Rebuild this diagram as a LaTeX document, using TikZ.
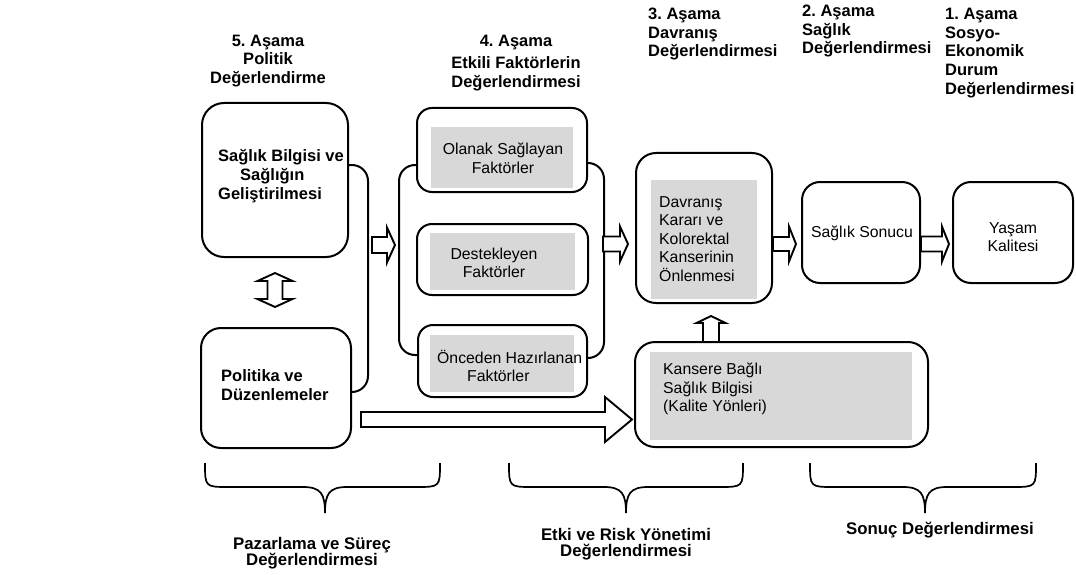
\documentclass[tikz,border=0pt]{standalone}
\usepackage{fontspec}
\setmainfont{Liberation Sans}
\usetikzlibrary{calc}
\frenchspacing
\definecolor{boxgray}{RGB}{216,216,216}
\newcommand\blkright[5]{\draw[blk] (#1) ++(0,-#4) -- ++(#2,0) -- ++(0,{#4-#5}) -- ++(#3,#5) -- ++(-#3,#5) -- ++(0,{#4-#5}) -- ++(-#2,0) -- cycle;}
\newcommand\curlybr[3]{\draw[brace] (#1,463) .. controls (#1,487) and (#1,487) .. ({#1+24},487) -- ({#3-22},487) .. controls ({#3-4},487) and (#3,494) .. (#3,513) .. controls (#3,494) and ({#3+4},487) .. ({#3+22},487) -- ({#2-24},487) .. controls (#2,487) and (#2,487) .. (#2,463);}
\begin{document}
\begin{tikzpicture}[x=1pt,y=-1pt,
  box/.style={draw, line width=2pt, rounded corners=#1, fill=white, inner sep=0pt},
  box/.default=18pt,
  graybox/.style={fill=boxgray, inner sep=0pt},
  txt/.style={inner sep=0pt, font=\fontsize{15.8}{18.6}\selectfont},
  btxt/.style={inner sep=0pt, font=\fontsize{16.5}{18.8}\selectfont\bfseries},
  ltxt/.style={inner sep=0pt, font=\fontsize{16.8}{16.5}\selectfont\bfseries},
  link/.style={line width=2pt, rounded corners=16pt},
  blk/.style={draw, line width=1.9pt, fill=white, line join=miter},
  brace/.style={line width=1.7pt}
]
\useasboundingbox (0,0) rectangle (1076,575);

% headings
\node[btxt, align=center] (h5) at (268,61) {5. Aşama\\Politik\\Değerlendirme};
\node[btxt, align=center] (h4) at (516,63) {4. Aşama\\[4pt]Etkili Faktörlerin\\Değerlendirmesi};
\node[btxt, align=left, anchor=west] (h3) at (648,34) {3. Aşama\\Davranış\\Değerlendirmesi};
\node[btxt, align=left, anchor=west] (h2) at (802,31) {2. Aşama\\Sağlık\\Değerlendirmesi};
\node[btxt, align=left, anchor=west] (h1) at (945,53) {1. Aşama\\Sosyo-\\Ekonomik\\Durum\\Değerlendirmesi};

% boxes
\node[box=22pt, minimum width=146pt, minimum height=154pt] (A) at (275,180) {};
\node[box=20pt, minimum width=150pt, minimum height=120pt] (B) at (276,388) {};
\node[box=15pt, minimum width=170pt, minimum height=84pt] (O1) at (502,150) {};
\node[box=15pt, minimum width=171pt, minimum height=71pt] (O2) at (502.5,259.5) {};
\node[box=15pt, minimum width=169pt, minimum height=72pt] (O3) at (502.5,361) {};
\node[box=20pt, minimum width=136pt, minimum height=150pt] (D) at (704,228) {};
\node[box=18pt, minimum width=118pt, minimum height=101pt] (S) at (861,232.5) {};
\node[box=18pt, minimum width=120pt, minimum height=101pt] (Y) at (1013,232.5) {};
\node[box=20pt, minimum width=293pt, minimum height=105pt] (K) at (781.5,394.5) {};

% gray inner fields
\node[graybox, minimum width=142pt, minimum height=61pt] (G1) at (502,157.5) {};
\node[graybox, minimum width=145pt, minimum height=57pt] (G2) at (502.5,261.5) {};
\node[graybox, minimum width=144pt, minimum height=57pt] (G3) at (502,363.5) {};
\node[graybox, minimum width=106pt, minimum height=119pt] (GD) at (704,239.5) {};
\node[graybox, minimum width=262pt, minimum height=88pt] (GK) at (781,396) {};

% connectors (brackets)
\draw[link] ([yshift=15pt]A.east) -| ($([yshift=-4pt]B.east)+(16,0)$) -- ([yshift=-4pt]B.east);
\draw[link] ([yshift=-15pt]O1.west) -- ++(-17,0) |- ([yshift=6pt]O3.west);
\draw[link] ([yshift=-13pt]O1.east) -- ++(16,0) |- ([yshift=3pt]O3.east);

% texts
\node[btxt, align=left, anchor=west] (tA) at (218,176) {Sağlık Bilgisi ve\\\hspace*{22pt}Sağlığın\\Geliştirilmesi};
\node[btxt, align=left, anchor=west] (tB) at (221,385) {Politika ve\\Düzenlemeler};
\node[txt, align=center] (t1) at (503,158) {Olanak Sağlayan\\Faktörler};
\node[txt, align=center] (t2) at (494,263) {Destekleyen\\Faktörler};
\node[txt, align=left, anchor=west] (t3) at (437,366) {Önceden Hazırlanan\\\hspace*{30pt}Faktörler};
\node[txt, align=left, anchor=west] (tD) at (659,239) {Davranış\\Kararı ve\\Kolorektal\\Kanserinin\\Önlenmesi};
\node[txt] (tS) at (862,233) {Sağlık Sonucu};
\node[txt, align=center] (tY) at (1013,237) {Yaşam\\Kalitesi};
\node[txt, align=left, anchor=west] (tK) at (663,389) {Kansere Bağlı\\Sağlık Bilgisi\\(Kalite Yönleri)};

% block arrows
\coordinate (a1) at (372,245);
\coordinate (a2) at (603,244);
\coordinate (a3) at (D.east |- 0,244);
\coordinate (a4) at (S.east |- 0,244);
\coordinate (a5) at (361,419.5);
\coordinate (a6) at (711,0 |- K.north);
\coordinate (dbl) at (275,290);
\blkright{a1}{15}{8}{8}{17.5}
\blkright{a2}{17}{8}{7.5}{17.5}
\blkright{a3}{16}{7}{7}{17.5}
\blkright{a4}{21}{7}{7.5}{17.5}
\blkright{a5}{244}{27}{7.5}{22.5}
\draw[blk] (711,342) ++(-8,0) -- ++(0,-19) -- ++(-6.5,0) -- ++(14.5,-7) -- ++(14.5,7) -- ++(-6.5,0) -- ++(0,19) -- cycle;
\draw[blk] (dbl) ++(0,-17) -- ++(17.5,8) -- ++(-10,0) -- ++(0,18) -- ++(10,0) -- ++(-17.5,8) -- ++(-17.5,-8) -- ++(10,0) -- ++(0,-18) -- ++(-10,0) -- cycle;

% braces
\curlybr{205}{440}{325}
\curlybr{509}{743}{626}
\curlybr{810}{1036}{925}

% bottom labels
\node[ltxt, align=center] (l1) at (312,553) {Pazarlama ve Süreç\\Değerlendirmesi};
\node[ltxt, align=center] (l2) at (626,544) {Etki ve Risk Yönetimi\\Değerlendirmesi};
\node[ltxt] (l3) at (940,530) {Sonuç Değerlendirmesi};
\end{tikzpicture}
\end{document}
